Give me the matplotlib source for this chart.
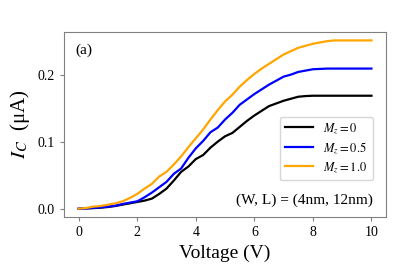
import numpy as np
import matplotlib
matplotlib.use('Agg')
import matplotlib.pyplot as plt

# Voltage grid (V)
voltage = np.arange(0, 10.01, 0.25)

# Current (uA)
ic_mz0 = [0, 0.0003, 0.0008, 0.0015, 0.0025, 0.004, 0.006, 0.008, 0.010, 0.012,
          0.015, 0.022, 0.030, 0.042, 0.055, 0.063, 0.074, 0.080, 0.091, 0.100,
          0.108, 0.113, 0.122, 0.131, 0.139, 0.146, 0.153, 0.157, 0.161, 0.164,
          0.167, 0.168, 0.1685, 0.1685, 0.1685, 0.1685, 0.1685, 0.1685, 0.1685, 0.1685, 0.1685]
ic_mz05 = [0, 0.0005, 0.0012, 0.002, 0.003, 0.0045, 0.007, 0.009, 0.011, 0.017,
           0.024, 0.032, 0.040, 0.052, 0.060, 0.076, 0.090, 0.101, 0.114, 0.121,
           0.133, 0.143, 0.155, 0.163, 0.171, 0.178, 0.185, 0.191, 0.197, 0.200,
           0.204, 0.206, 0.208, 0.2085, 0.209, 0.209, 0.209, 0.209, 0.209, 0.209, 0.209]
ic_mz10 = [0, 0.001, 0.003, 0.004, 0.006, 0.008, 0.011, 0.016, 0.022, 0.030,
           0.037, 0.048, 0.055, 0.066, 0.078, 0.092, 0.105, 0.118, 0.133, 0.147,
           0.160, 0.170, 0.182, 0.192, 0.201, 0.209, 0.216, 0.223, 0.230, 0.235,
           0.240, 0.243, 0.246, 0.248, 0.250, 0.251, 0.251, 0.251, 0.251, 0.251, 0.251]

labels = [r'$M_z=0$', r'$M_z=0.5$', r'$M_z=1.0$']
colors = ['black', 'blue', 'orange']

plt.rcParams['font.family'] = 'Liberation Serif'
plt.rcParams['mathtext.fontset'] = 'stix'

fig = plt.figure(figsize=(4.03, 2.69), dpi=100)
ax = fig.add_axes([0.159, 0.193, 0.799, 0.688])

for ys, lab, c in zip([ic_mz0, ic_mz05, ic_mz10], labels, colors):
    ax.plot(voltage, ys, color=c, lw=1.6, label=lab)

ax.set_xticks([0, 2, 4, 6, 8, 10])
ax.set_yticks([0.0, 0.1, 0.2])
ax.set_yticklabels(['0.0', '0.1', '0.2'])
ax.tick_params(labelsize=10, length=3, color='gray')
for s in ax.spines.values():
    s.set_color('gray')

ax.set_xlabel('Voltage (V)', fontsize=14)
ax.set_ylabel(r'$I_C$  (μA)', fontsize=15)

ax.legend(loc='lower right', bbox_to_anchor=(0.958, 0.2), borderaxespad=0,
          fontsize=9, handlelength=2.3, labelspacing=0.35)
ax.text(0.035, 0.9, '(a)', transform=ax.transAxes, fontsize=11, va='center')
ax.text(0.96, 0.09, '(W, L) = (4nm, 12nm)', transform=ax.transAxes, fontsize=11,
        ha='right', va='center')

fig.savefig('out.png', dpi=100)
